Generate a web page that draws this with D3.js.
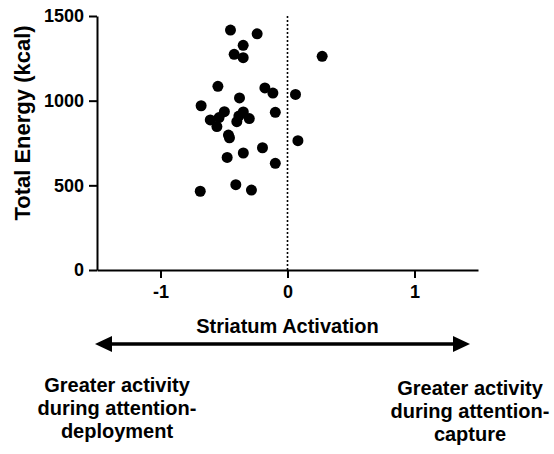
<!DOCTYPE html>
<html>
<head>
<meta charset="utf-8">
<script src="https://cdn.jsdelivr.net/npm/d3@7"></script>
<style>
  html, body { margin: 0; padding: 0; background: #fff; }
  svg { display: block; }
  text { font-family: "Liberation Sans", Arial, sans-serif; font-weight: bold; fill: #000; }
</style>
</head>
<body>
<svg id="chart" width="554" height="454"></svg>
<script>
// Striatum activation (x) vs total energy intake (y) per participant
const activation = [-0.449, -0.239, -0.349, -0.420, -0.349, 0.273, -0.548, -0.178, -0.115, 0.063,
  -0.378, -0.680, -0.497, -0.539, -0.348, -0.096, -0.608, -0.383, -0.399, -0.301,
  -0.556, -0.465, -0.457, 0.082, -0.197, -0.348, -0.475, -0.096, -0.407, -0.284, -0.687];
const energy = [1417, 1395, 1327, 1274, 1254, 1262, 1085, 1075, 1045, 1037,
  1016, 970, 935, 900, 933, 931, 886, 909, 876, 894,
  847, 797, 781, 764, 722, 691, 665, 630, 504, 472, 465];

const xTicks = [-1, 0, 1];
const xTickLabels = ["-1", "0", "1"];
const yTicks = [0, 500, 1000, 1500];
const yTickLabels = ["0", "500", "1000", "1500"];
const xTitle = "Striatum Activation";
const yTitle = "Total Energy (kcal)";
const leftNote = ["Greater activity", "during attention-", "deployment"];
const rightNote = ["Greater activity", "during attention-", "capture"];

const svg = d3.select("#chart");

const x = d3.scaleLinear().domain([-1.5, 1.5]).range([97, 478]);
const y = d3.scaleLinear().domain([0, 1500]).range([270, 16]);

// reference line at zero activation
svg.append("line")
  .attr("x1", x(0)).attr("x2", x(0))
  .attr("y1", y(1500)).attr("y2", y(0))
  .attr("stroke", "#000").attr("stroke-width", 1.6)
  .attr("stroke-dasharray", "2,2");

// axes
const xAxis = svg.append("g")
  .attr("transform", `translate(0,${y(0)})`)
  .call(d3.axisBottom(x).tickValues(xTicks)
    .tickFormat((d, i) => xTickLabels[i]).tickSize(8).tickSizeOuter(0));
const yAxis = svg.append("g")
  .attr("transform", `translate(${x(-1.5)},0)`)
  .call(d3.axisLeft(y).tickValues(yTicks)
    .tickFormat((d, i) => yTickLabels[i]).tickSize(8).tickSizeOuter(0));

[xAxis, yAxis].forEach(g => {
  g.select(".domain").attr("stroke", "#000").attr("stroke-width", 2);
  g.selectAll(".tick line").attr("stroke", "#000").attr("stroke-width", 2);
  g.selectAll(".tick text")
    .style("font-family", "'Liberation Sans', Arial, sans-serif")
    .style("font-weight", "bold").style("font-size", "18px").attr("fill", "#000");
});
xAxis.selectAll(".tick text").attr("y", 14).attr("dy", "0.8em");
yAxis.selectAll(".tick text").attr("x", -13);

// points
svg.append("g").selectAll("circle")
  .data(activation.map((a, i) => [a, energy[i]]))
  .join("circle")
  .attr("cx", d => x(d[0]))
  .attr("cy", d => y(d[1]))
  .attr("r", 5.5)
  .attr("fill", "#000");

// axis titles
svg.append("text")
  .attr("x", x(0)).attr("y", 333)
  .attr("text-anchor", "middle")
  .style("font-size", "20px")
  .text(xTitle);

svg.append("text")
  .attr("transform", `translate(30,123) rotate(-90)`)
  .attr("text-anchor", "middle")
  .style("font-size", "22px")
  .text(yTitle);

// double-headed arrow below the x axis
const ay = 344, ax1 = 95, ax2 = 470, head = 17, half = 8;
svg.append("line")
  .attr("x1", ax1 + head - 2).attr("x2", ax2 - head + 2)
  .attr("y1", ay).attr("y2", ay)
  .attr("stroke", "#000").attr("stroke-width", 3.5);
svg.append("path")
  .attr("d", `M${ax1},${ay} L${ax1 + head},${ay - half} L${ax1 + head},${ay + half} Z`)
  .attr("fill", "#000");
svg.append("path")
  .attr("d", `M${ax2},${ay} L${ax2 - head},${ay - half} L${ax2 - head},${ay + half} Z`)
  .attr("fill", "#000");

// direction notes
function note(lines, cx, top) {
  const t = svg.append("text")
    .attr("text-anchor", "middle")
    .style("font-size", "20px");
  lines.forEach((s, i) => {
    t.append("tspan").attr("x", cx).attr("y", top + i * 23).text(s);
  });
}
note(leftNote, 117, 392);
note(rightNote, 470, 395);
</script>
</body>
</html>
